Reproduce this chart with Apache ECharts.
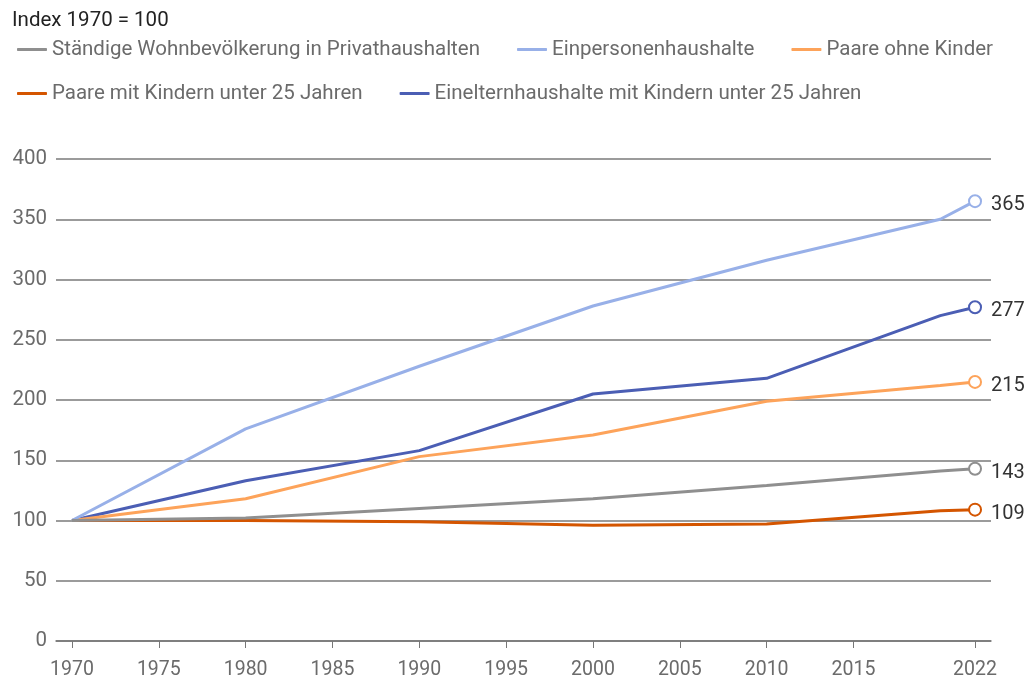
<!DOCTYPE html>
<html>
<head>
<meta charset="utf-8">
<script src="https://cdn.jsdelivr.net/npm/echarts@6/dist/echarts.min.js"></script>
<style>
html,body{margin:0;padding:0;background:#fff;}
#chart{width:1029px;height:682px;}
</style>
</head>
<body>
<div id="chart"></div>
<script>
const years = [1970, 1980, 1990, 2000, 2010, 2020, 2022];
const seriesNames = [
  'Ständige Wohnbevölkerung in Privathaushalten',
  'Einpersonenhaushalte',
  'Paare ohne Kinder',
  'Paare mit Kindern unter 25 Jahren',
  'Einelternhaushalte mit Kindern unter 25 Jahren'
];
const bevoelkerung = [100, 102, 110, 118, 129, 141, 143];
const einpersonen = [100, 176, 228, 278, 316, 350, 365];
const paareOhneKinder = [100, 118, 153, 171, 199, 212, 215];
const paareMitKindern = [100, 100, 99, 96, 97, 108, 109];
const eineltern = [100, 133, 158, 205, 218, 270, 277];
const xTickLabels = [1970, 1975, 1980, 1985, 1990, 1995, 2000, 2005, 2010, 2015, 2022];

const colors = ['#8f8f8f', '#98b0e8', '#fda35a', '#d45500', '#4b5eb4'];
const allValues = [bevoelkerung, einpersonen, paareOhneKinder, paareMitKindern, eineltern];

const chart = echarts.init(document.getElementById('chart'), null, {renderer: 'canvas'});
const font = 'Roboto, "Noto Sans", sans-serif';

const series = allValues.map((vals, i) => {
  const last = vals.length - 1;
  return {
    name: seriesNames[i],
    type: 'line',
    color: colors[i],
    data: vals.map((v, j) => [years[j], v]),
    showSymbol: true,
    symbol: 'emptyCircle',
    symbolSize: (val, p) => p.dataIndex === last ? 12 : 0,
    itemStyle: {color: colors[i], borderWidth: 3},
    lineStyle: {color: colors[i], width: 3},
    z: 10 - i,
    animation: false,
    emphasis: {disabled: true},
    label: {
      show: true,
      position: 'right',
      distance: 9,
      offset: [0, 4],
      fontFamily: font,
      fontSize: 20,
      color: '#333',
      formatter: (p) => p.dataIndex === last ? String(p.value[1]) : ''
    }
  };
});

const legendText = {fontFamily: font, fontSize: 20.5, color: '#6b6b6b'};
const option = {
  backgroundColor: '#fff',
  animation: false,
  title: {
    text: 'Index 1970 = 100',
    left: 7, top: 5,
    textStyle: {fontFamily: font, fontSize: 20.5, fontWeight: 'normal', color: '#222'}
  },
  legend: [
    {
      data: seriesNames.slice(0, 3),
      left: 12, top: 34,
      icon: 'roundRect', itemWidth: 30, itemHeight: 3, itemGap: 37,
      textStyle: legendText, selectedMode: false
    },
    {
      data: seriesNames.slice(3),
      left: 12, top: 78,
      icon: 'roundRect', itemWidth: 30, itemHeight: 3, itemGap: 37,
      textStyle: legendText, selectedMode: false
    }
  ],
  grid: {left: 56, right: 38, top: 159, bottom: 41, containLabel: false},
  xAxis: {
    type: 'value',
    min: 1969.08,
    max: 2022.92,
    axisLine: {show: true, lineStyle: {color: '#777', width: 1.5}},
    axisTick: {show: true, customValues: xTickLabels, length: 7, lineStyle: {color: '#777', width: 1}},
    axisLabel: {
      customValues: xTickLabels,
      fontFamily: font, fontSize: 19.5, color: '#6b6b6b', margin: 19,
      formatter: (v) => String(v)
    },
    splitLine: {show: false}
  },
  yAxis: {
    type: 'value',
    min: 0, max: 400, interval: 50,
    axisLine: {show: false},
    axisTick: {show: false},
    axisLabel: {fontFamily: font, fontSize: 20.5, color: '#6b6b6b', margin: 9},
    splitLine: {show: true, lineStyle: {color: '#7a7a7a', width: 1.5}}
  },
  series: series
};
chart.setOption(option);
</script>
</body>
</html>
